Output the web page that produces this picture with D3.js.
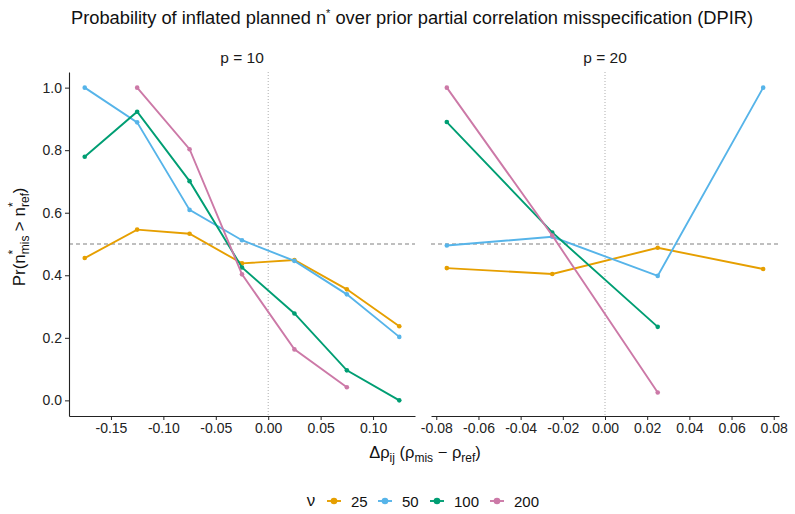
<!DOCTYPE html>
<html>
<head>
<meta charset="utf-8">
<script src="https://cdn.jsdelivr.net/npm/d3@7"></script>
<style>
  body { margin: 0; background: #fff; }
  text { font-family: "Liberation Sans", Arial, sans-serif; }
</style>
</head>
<body>
<svg id="chart" width="795" height="514"></svg>
<script>
// data
const nuLevels = [25, 50, 100, 200];
const colors = ["#E69F00", "#56B4E9", "#009E73", "#CC79A7"];

const p10X = [-0.175, -0.125, -0.075, -0.025, 0.025, 0.075, 0.125];
const p10_nu25  = [0.455, 0.546, 0.533, 0.438, 0.449, 0.355, 0.237];
const p10_nu50  = [1.000, 0.889, 0.609, 0.512, 0.446, 0.339, 0.203];
const p10_nu100 = [0.779, 0.923, 0.701, 0.425, 0.278, 0.096, 0.000];
const p10_nu200 = [null, 1.000, 0.803, 0.403, 0.163, 0.042, null];

const p20X = [-0.075, -0.025, 0.025, 0.075];
const p20_nu25  = [0.423, 0.404, 0.488, 0.420];
const p20_nu50  = [0.495, 0.523, 0.398, 1.000];
const p20_nu100 = [0.890, 0.537, 0.235, null];
const p20_nu200 = [1.000, 0.527, 0.025, null];

const yTicks = [0, 0.2, 0.4, 0.6, 0.8, 1.0];
const p10Ticks = [-0.15, -0.10, -0.05, 0.00, 0.05, 0.10];
const p20Ticks = [-0.08, -0.06, -0.04, -0.02, 0.00, 0.02, 0.04, 0.06, 0.08];

const svg = d3.select("#chart");

const plotTop = 72, plotBottom = 416;
const y = d3.scaleLinear().domain([-0.05, 1.05]).range([plotBottom, plotTop]);

const panels = [
  { title: "p = 10", xs: p10X, series: [p10_nu25, p10_nu50, p10_nu100, p10_nu200],
    left: 69, right: 415, domain: [-0.19, 0.14], ticks: p10Ticks, yaxis: true },
  { title: "p = 20", xs: p20X, series: [p20_nu25, p20_nu50, p20_nu100, p20_nu200],
    left: 431, right: 779, domain: [-0.0825, 0.0825], ticks: p20Ticks, yaxis: false }
];

panels.forEach(p => {
  const x = d3.scaleLinear().domain(p.domain).range([p.left, p.right]);
  const g = svg.append("g");

  // strip label
  g.append("text")
    .attr("x", (p.left + p.right) / 2).attr("y", 63)
    .attr("text-anchor", "middle").attr("font-size", 15.5).attr("fill", "#1a1a1a")
    .text(p.title);

  // reference lines
  g.append("line")
    .attr("x1", p.left).attr("x2", p.right)
    .attr("y1", y(0.5)).attr("y2", y(0.5))
    .attr("stroke", "#808080").attr("stroke-width", 1.2).attr("stroke-dasharray", "4,3");
  g.append("line")
    .attr("x1", x(0)).attr("x2", x(0))
    .attr("y1", plotTop).attr("y2", plotBottom)
    .attr("stroke", "#999").attr("stroke-width", 0.8).attr("stroke-dasharray", "1,2");

  // lines and points
  const line = d3.line()
    .defined(d => d[1] != null)
    .x(d => x(d[0])).y(d => y(d[1]));

  p.series.forEach((vals, i) => {
    const pts = p.xs.map((xv, j) => [xv, vals[j]]);
    g.append("path")
      .datum(pts)
      .attr("d", line)
      .attr("fill", "none")
      .attr("stroke", colors[i])
      .attr("stroke-width", 1.9);
    g.selectAll(null)
      .data(pts.filter(d => d[1] != null))
      .enter().append("circle")
      .attr("cx", d => x(d[0])).attr("cy", d => y(d[1]))
      .attr("r", 2.3)
      .attr("fill", colors[i]);
  });

  // x axis
  const xa = g.append("g")
    .attr("transform", `translate(0,${plotBottom})`)
    .call(d3.axisBottom(x).tickValues(p.ticks).tickFormat(d3.format(".2f")).tickSize(4).tickSizeOuter(0));
  xa.select(".domain").attr("stroke", "#222").attr("stroke-width", 1.1);
  xa.selectAll(".tick line").attr("stroke", "#222");
  xa.selectAll("text").attr("font-size", 14).attr("fill", "#222")
    .attr("font-family", "Liberation Sans, Arial, sans-serif")
    .text(d => d3.format(".2f")(d).replace("−", "-"));

  if (p.yaxis) {
    const ya = g.append("g")
      .attr("transform", `translate(${p.left},0)`)
      .call(d3.axisLeft(y).tickValues(yTicks).tickFormat(d3.format(".1f")).tickSize(4).tickSizeOuter(0));
    ya.select(".domain").attr("stroke", "#222").attr("stroke-width", 1.1);
    ya.selectAll(".tick line").attr("stroke", "#222");
    ya.selectAll("text").attr("font-size", 14).attr("fill", "#222")
      .attr("font-family", "Liberation Sans, Arial, sans-serif");
  }
});

// title
svg.append("text")
  .attr("x", 412).attr("y", 24)
  .attr("text-anchor", "middle").attr("font-size", 18.3).attr("fill", "#111")
  .html('Probability of inflated planned n<tspan dy="-7" font-size="11">*</tspan><tspan dy="7"> over prior partial correlation misspecification (DPIR)</tspan>');

// x label
svg.append("text")
  .attr("x", 425).attr("y", 458)
  .attr("text-anchor", "middle").attr("font-size", 16.5).attr("fill", "#111")
  .html('Δρ<tspan dy="4" font-size="12">ij</tspan><tspan dy="-4"> (ρ</tspan><tspan dy="4" font-size="12">mis</tspan><tspan dy="-4"> − ρ</tspan><tspan dy="4" font-size="12">ref</tspan><tspan dy="-4">)</tspan>');

// y label
svg.append("text")
  .attr("transform", "translate(25,237) rotate(-90)")
  .attr("text-anchor", "middle").attr("font-size", 17).attr("fill", "#111")
  .html('Pr(n<tspan dy="4" font-size="12">mis</tspan><tspan dx="-19" dy="-12" font-size="12">*</tspan><tspan dx="14" dy="8"> &gt; n</tspan><tspan dy="4" font-size="12">ref</tspan><tspan dx="-14" dy="-12" font-size="12">*</tspan><tspan dx="9" dy="8">)</tspan>');

// legend
const leg = svg.append("g").attr("transform", "translate(0,501)");
leg.append("text").attr("x", 311).attr("y", 5).attr("font-size", 17)
  .attr("text-anchor", "middle").attr("fill", "#111").text("ν");
const legX = [334, 385, 437, 497];
nuLevels.forEach((nu, i) => {
  const k = leg.append("g").attr("transform", `translate(${legX[i]},0)`);
  k.append("line").attr("x1", -7).attr("x2", 7).attr("y1", 0).attr("y2", 0)
    .attr("stroke", colors[i]).attr("stroke-width", 1.9);
  k.append("circle").attr("r", 3.3).attr("fill", colors[i]);
  k.append("text").attr("x", 17).attr("y", 5.5).attr("font-size", 15).attr("fill", "#111").text(nu);
});
</script>
</body>
</html>
